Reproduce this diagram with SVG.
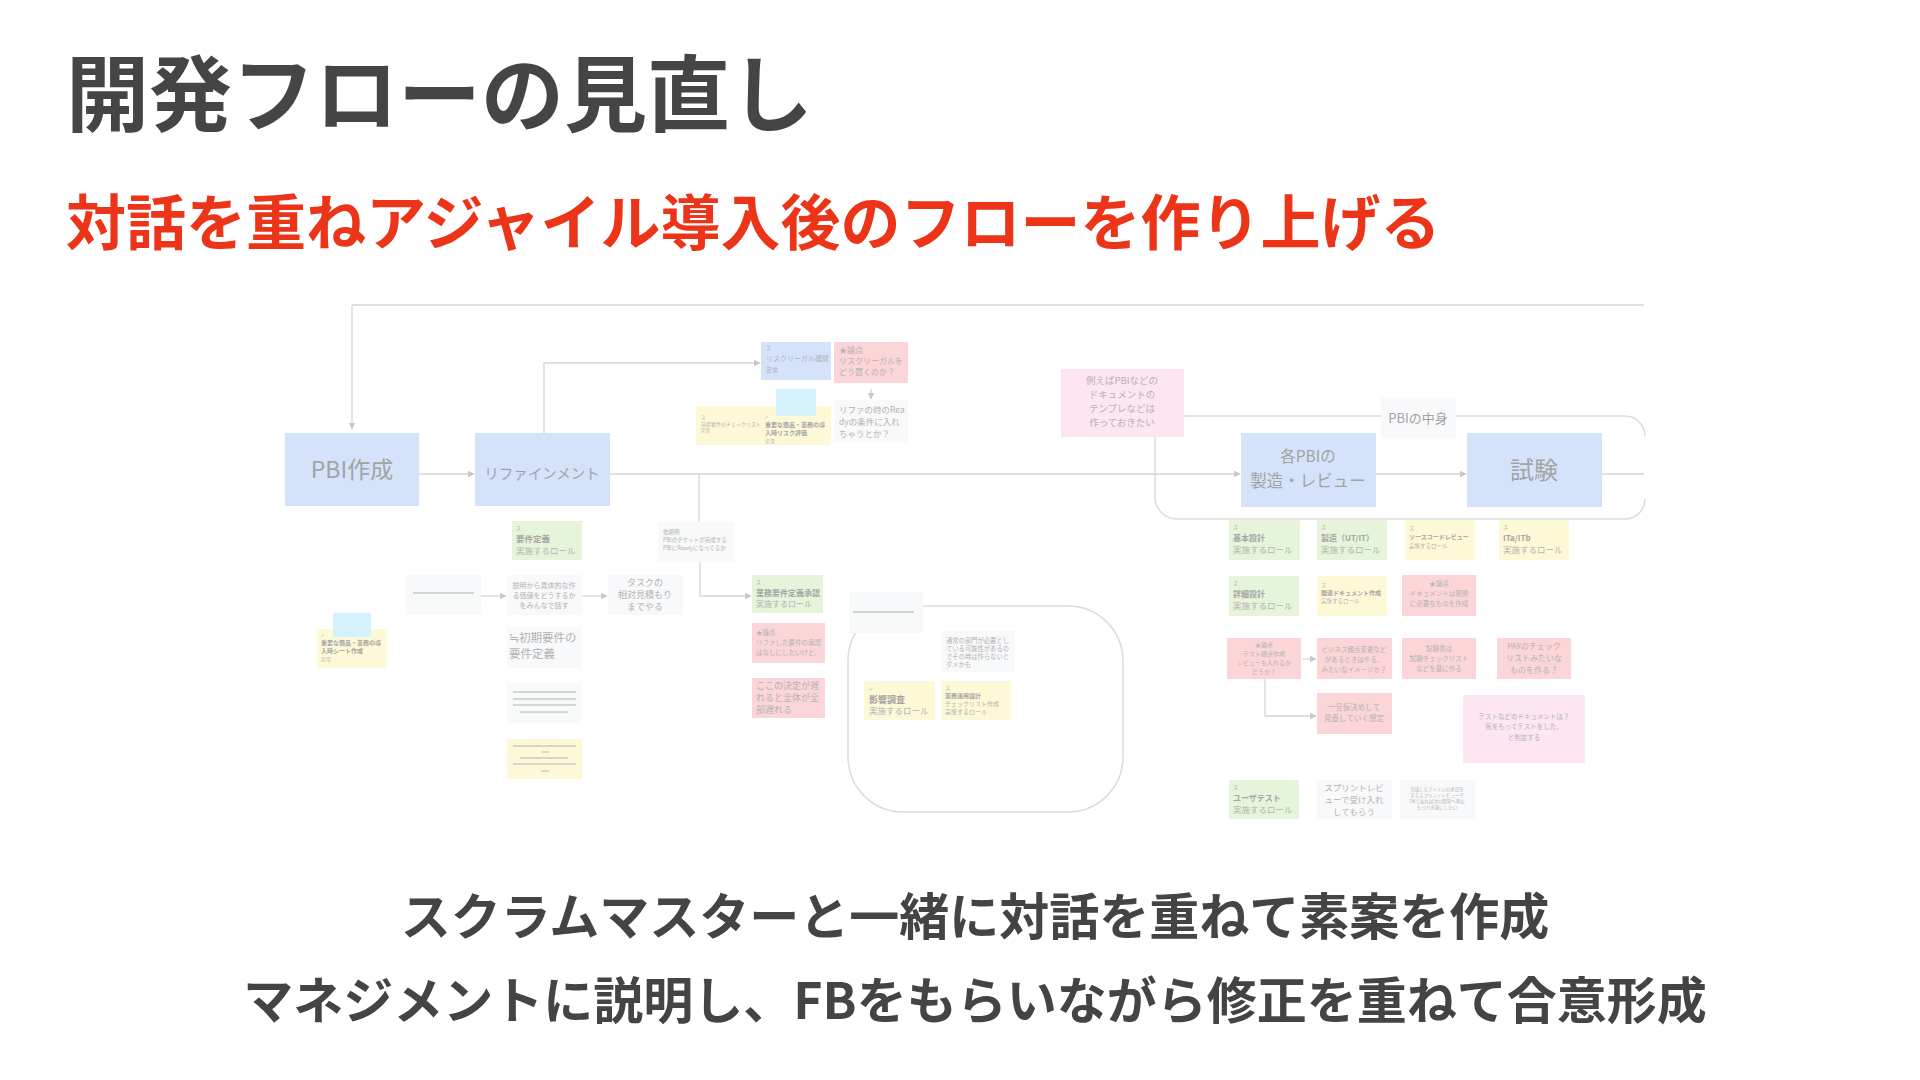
<svg xmlns="http://www.w3.org/2000/svg" width="1920" height="1080" viewBox="0 0 1920 1080">
<defs>
<style>
text{font-family:"Noto Sans CJK JP","Noto Sans",sans-serif;}
.title{font-size:83px;font-weight:700;fill:#454545;}
.sub{font-size:60px;font-weight:700;fill:#ec3418;}
.foot{font-size:50px;font-weight:700;fill:#444444;text-anchor:middle;}
.b{fill:#d4e3fa;}
.g{fill:#e6f4d9;}
.y{fill:#fdf8d6;}
.p{fill:#fbd5d8;}
.lp{fill:#fde5f1;}
.w{fill:#f8f9fa;}
.c{fill:#d5f1fb;}
.big{fill:#a3a3a3;}
.t{fill:#b3b3b3;}
.tb{fill:#a6a6a6;font-weight:700;}
.ln{fill:none;stroke:#d6d6d6;stroke-width:1.3;}
.fr{fill:none;stroke:#dcdcdc;stroke-width:1.5;}
.dl{stroke:#c8c8c8;stroke-width:1.3;}
.mid{text-anchor:middle;}
</style>
<marker id="ah" viewBox="0 0 6 6" refX="5.5" refY="3" markerWidth="5" markerHeight="5" orient="auto">
<path d="M0,0 L6,3 L0,6 z" fill="#c8c8c8"/>
</marker>
</defs>
<rect width="1920" height="1080" fill="#ffffff"/>

<text class="title" x="66" y="125">開発フローの見直し</text>
<text class="sub" x="66" y="245">対話を重ねアジャイル導入後のフローを作り上げる</text>

<g id="frame-pbi-nakami">
<path class="fr" d="M1184,416 H1625 A20,20 0 0 1 1645,436 M1645,499 A20,20 0 0 1 1625,519 H1177 A22,22 0 0 1 1155,497 V437"/>
</g>
<g id="frame-lower">
<rect class="fr" x="848" y="606" width="275" height="206" rx="55"/>
</g>

<g id="connectors">
<path class="ln" d="M352,305 H1644"/>
<path class="ln" d="M352,305 V429" marker-end="url(#ah)"/>
<path class="ln" d="M419,474 H474" marker-end="url(#ah)"/>
<path class="ln" d="M544,433 V363 H760" marker-end="url(#ah)"/>
<path class="ln" d="M610,474 H1240" marker-end="url(#ah)"/>
<path class="ln" d="M699,474 V522"/>
<path class="ln" d="M700,562 V596 H751" marker-end="url(#ah)"/>
<path class="ln" d="M871,389 V399" marker-end="url(#ah)"/>
<path class="ln" d="M481,596 H506" marker-end="url(#ah)"/>
<path class="ln" d="M582,596 H607" marker-end="url(#ah)"/>
<path class="ln" d="M1376,474 H1466" marker-end="url(#ah)"/>
<path class="ln" d="M1602,474 H1644"/>
<path class="ln" d="M1303,659 H1316" marker-end="url(#ah)"/>
<path class="ln" d="M1265,679 V716 H1316" marker-end="url(#ah)"/>
</g>

<g id="pbi-sakusei">
<rect class="b" x="285" y="433" width="134" height="73"/>
<text class="big mid" x="352" y="478" font-size="23">PBI作成</text>
</g>
<g id="refinement">
<rect class="b" x="475" y="433" width="135" height="73"/>
<text class="big mid" x="542" y="479" font-size="14.5">リファインメント</text>
</g>
<g id="risk-legal">
<rect class="b" x="761" y="342" width="70" height="38"/>
<text class="t" x="766" y="350" font-size="5">ス</text>
<text class="t" x="766" y="361" font-size="7">リスクリーガル確認</text>
<text class="t" x="766" y="372" font-size="6">定常</text>
</g>
<g id="ronten-risk">
<rect class="p" x="834" y="342" width="74" height="41"/>
<text class="t" x="839" y="353" font-size="8">★論点</text>
<text class="t" x="839" y="364" font-size="8">リスクリーガルを</text>
<text class="t" x="839" y="375" font-size="8">どう置くのか？</text>
</g>
<g id="refa-ready">
<rect class="w" x="834" y="400" width="74" height="42"/>
<text class="t" x="839" y="413" font-size="8.5">リファの時のRea</text>
<text class="t" x="839" y="425" font-size="8.5">dyの条件に入れ</text>
<text class="t" x="839" y="437" font-size="8.5">ちゃうとか？</text>
</g>
<g id="yellow-checklist">
<rect class="y" x="696" y="406" width="135" height="39"/>
<text class="t" x="701" y="419" font-size="4.5">ス</text>
<text class="t" x="701" y="426" font-size="5">前提要件のチェックリスト</text>
<text class="t" x="701" y="432" font-size="4.5">定常</text>
<text class="t" x="765" y="419" font-size="4.5">✓</text>
<text class="tb" x="765" y="427" font-size="6">重要な商品・業務の導</text>
<text class="tb" x="765" y="435" font-size="6">入時リスク評価</text>
<text class="t" x="765" y="443" font-size="5">定常</text>
</g>
<g id="cyan-1">
<rect class="c" x="776" y="389" width="40" height="27"/>
</g>

<g id="youken-teigi">
<rect class="g" x="512" y="521" width="70" height="39"/>
<text class="t" x="516" y="530" font-size="5">ス</text>
<text class="tb" x="516" y="542" font-size="8.5">要件定義</text>
<text class="t" x="516" y="554" font-size="8.5">実施するロール</text>
</g>
<g id="irai-rei">
<rect class="w" x="658" y="522" width="76" height="40"/>
<text class="t" x="663" y="534" font-size="5.5">依頼例</text>
<text class="t" x="663" y="542" font-size="5.5">PBIのチケットが完成する</text>
<text class="t" x="663" y="550" font-size="5.5">PBIにReadyになってるか</text>
</g>
<g id="blank-1">
<rect class="w" x="406" y="575" width="75" height="40"/>
<line class="dl" x1="413" y1="593" x2="474" y2="593"/>
</g>
<g id="setsumei">
<rect class="w" x="507" y="575" width="75" height="40"/>
<text class="t mid" x="544" y="588" font-size="7">説明から具体的な作</text>
<text class="t mid" x="544" y="598" font-size="7">る価値をどうするか</text>
<text class="t mid" x="544" y="608" font-size="7">をみんなで話す</text>
</g>
<g id="task">
<rect class="w" x="608" y="575" width="75" height="40"/>
<text class="t mid" x="645" y="586" font-size="9">タスクの</text>
<text class="t mid" x="645" y="598" font-size="9">相対見積もり</text>
<text class="t mid" x="645" y="610" font-size="9">までやる</text>
</g>
<g id="gyomu-youken">
<rect class="g" x="752" y="575" width="71" height="38"/>
<text class="t" x="756" y="584" font-size="5">ス</text>
<text class="tb" x="756" y="596" font-size="8">業務要件定義承認</text>
<text class="t" x="756" y="607" font-size="8">実施するロール</text>
</g>
<g id="ronten-refa">
<rect class="p" x="752" y="623" width="73" height="40"/>
<text class="t" x="756" y="635" font-size="6.5">★論点</text>
<text class="t" x="756" y="645" font-size="6.5">リファした要件の承認</text>
<text class="t" x="756" y="655" font-size="6.5">はなしにしたいけど、</text>
</g>
<g id="koko-kettei">
<rect class="p" x="752" y="678" width="73" height="40"/>
<text class="t" x="756" y="689" font-size="9">ここの決定が遅</text>
<text class="t" x="756" y="701" font-size="9">れると全体が全</text>
<text class="t" x="756" y="713" font-size="9">部遅れる</text>
</g>
<g id="shoki-youken">
<rect class="w" x="507" y="627" width="75" height="41"/>
<text class="t" x="509" y="642" font-size="11.5">≒初期要件の</text>
<text class="t" x="509" y="658" font-size="11.5">要件定義</text>
</g>
<g id="lines-box">
<rect class="w" x="507" y="683" width="75" height="40"/>
<line class="dl" x1="513" y1="692" x2="576" y2="692"/>
<line class="dl" x1="513" y1="699" x2="576" y2="699"/>
<line class="dl" x1="513" y1="705" x2="576" y2="705"/>
<line class="dl" x1="520" y1="712" x2="568" y2="712"/>
</g>
<g id="lines-yellow">
<rect class="y" x="507" y="739" width="75" height="40"/>
<line class="dl" x1="513" y1="746" x2="576" y2="746"/>
<line class="dl" x1="541" y1="752" x2="549" y2="752"/>
<line class="dl" x1="520" y1="758" x2="568" y2="758"/>
<line class="dl" x1="513" y1="764" x2="576" y2="764"/>
<line class="dl" x1="541" y1="771" x2="549" y2="771"/>
</g>
<g id="left-yellow">
<rect class="y" x="317" y="629" width="70" height="39"/>
<text class="t" x="321" y="637" font-size="4.5">✓</text>
<text class="tb" x="321" y="645" font-size="6">重要な商品・業務の導</text>
<text class="tb" x="321" y="653" font-size="6">入時シート作成</text>
<text class="t" x="321" y="661" font-size="5">定常</text>
</g>
<g id="cyan-2">
<rect class="c" x="333" y="613" width="38" height="24"/>
</g>

<g id="blank-2">
<rect class="w" x="849" y="592" width="74" height="41"/>
<line class="dl" x1="853" y1="612" x2="914" y2="612"/>
</g>
<g id="tsujo-bumon">
<rect class="w" x="942" y="631" width="73" height="41"/>
<text class="t" x="946" y="643" font-size="6.3">通常の部門が必要とし</text>
<text class="t" x="946" y="651" font-size="6.3">ている可能性があるの</text>
<text class="t" x="946" y="659" font-size="6.3">でその時は作らないと</text>
<text class="t" x="946" y="667" font-size="6.3">ダメかも</text>
</g>
<g id="eikyo-chosa">
<rect class="y" x="864" y="681" width="71" height="39"/>
<text class="t" x="869" y="691" font-size="5">✓</text>
<text class="tb" x="869" y="703" font-size="9">影響調査</text>
<text class="t" x="869" y="714" font-size="8.5">実施するロール</text>
</g>
<g id="gyomu-unyo">
<rect class="y" x="941" y="681" width="70" height="39"/>
<text class="t" x="945" y="690" font-size="5">ス</text>
<text class="tb" x="945" y="698" font-size="6">業務運用設計</text>
<text class="t" x="945" y="706" font-size="6">チェックリスト作成</text>
<text class="t" x="945" y="714" font-size="6">実施するロール</text>
</g>

<g id="template-note">
<rect class="lp" x="1061" y="369" width="123" height="68"/>
<text class="t mid" x="1122" y="384" font-size="9.5">例えばPBIなどの</text>
<text class="t mid" x="1122" y="398" font-size="9.5">ドキュメントの</text>
<text class="t mid" x="1122" y="412" font-size="9.5">テンプレなどは</text>
<text class="t mid" x="1122" y="426" font-size="9.5">作っておきたい</text>
</g>
<g id="pbi-nakami-label">
<rect class="w" x="1381" y="398" width="75" height="40"/>
<text class="big mid" x="1418" y="423" font-size="13">PBIの中身</text>
</g>
<g id="kaku-pbi">
<rect class="b" x="1241" y="433" width="135" height="74"/>
<text class="big mid" x="1308" y="462" font-size="15.5">各PBIの</text>
<text class="big mid" x="1308" y="487" font-size="16.5">製造・レビュー</text>
</g>
<g id="shiken">
<rect class="b" x="1467" y="433" width="135" height="74"/>
<text class="big mid" x="1534" y="479" font-size="24">試験</text>
</g>

<g id="kihon-sekkei">
<rect class="g" x="1229" y="520" width="71" height="40"/>
<text class="t" x="1233" y="529" font-size="5">ス</text>
<text class="tb" x="1233" y="541" font-size="8">基本設計</text>
<text class="t" x="1233" y="553" font-size="8.5">実施するロール</text>
</g>
<g id="seizo">
<rect class="g" x="1317" y="520" width="70" height="40"/>
<text class="t" x="1321" y="529" font-size="5">ス</text>
<text class="tb" x="1321" y="541" font-size="8">製造（UT/IT）</text>
<text class="t" x="1321" y="553" font-size="8.5">実施するロール</text>
</g>
<g id="source-review">
<rect class="y" x="1405" y="520" width="70" height="40"/>
<text class="t" x="1409" y="530" font-size="5">ス</text>
<text class="tb" x="1409" y="539" font-size="6">ソースコードレビュー</text>
<text class="t" x="1409" y="548" font-size="5.5">実施するロール</text>
</g>
<g id="ita-itb">
<rect class="y" x="1499" y="520" width="70" height="40"/>
<text class="t" x="1503" y="529" font-size="5">ス</text>
<text class="tb" x="1503" y="541" font-size="8">ITa/ITb</text>
<text class="t" x="1503" y="553" font-size="8.5">実施するロール</text>
</g>
<g id="shosai-sekkei">
<rect class="g" x="1229" y="576" width="70" height="40"/>
<text class="t" x="1233" y="585" font-size="5">ス</text>
<text class="tb" x="1233" y="597" font-size="8">詳細設計</text>
<text class="t" x="1233" y="609" font-size="8.5">実施するロール</text>
</g>
<g id="kanren-doc">
<rect class="y" x="1317" y="576" width="70" height="40"/>
<text class="t" x="1321" y="587" font-size="5">ス</text>
<text class="tb" x="1321" y="595" font-size="6">関連ドキュメント作成</text>
<text class="t" x="1321" y="603" font-size="5.5">実施するロール</text>
</g>
<g id="ronten-doc">
<rect class="p" x="1402" y="575" width="74" height="41"/>
<text class="t mid" x="1439" y="586" font-size="6.5">★論点</text>
<text class="t mid" x="1439" y="596" font-size="6.5">ドキュメントは開発</text>
<text class="t mid" x="1439" y="606" font-size="6.5">に必要なものを作成</text>
</g>
<g id="ronten-test">
<rect class="p" x="1227" y="638" width="74" height="41"/>
<text class="t mid" x="1264" y="647" font-size="6">★論点</text>
<text class="t mid" x="1264" y="656" font-size="6">テスト観点作成</text>
<text class="t mid" x="1264" y="665" font-size="6">レビューも入れるか</text>
<text class="t mid" x="1264" y="674" font-size="6">どうか？</text>
</g>
<g id="business">
<rect class="p" x="1317" y="638" width="75" height="41"/>
<text class="t mid" x="1354" y="652" font-size="6.5">ビジネス観点変更など</text>
<text class="t mid" x="1354" y="662" font-size="6.5">があるときはやる、</text>
<text class="t mid" x="1354" y="672" font-size="6.5">みたいなイメージか？</text>
</g>
<g id="shikensho">
<rect class="p" x="1402" y="638" width="74" height="41"/>
<text class="t mid" x="1439" y="651" font-size="6.5">試験書は</text>
<text class="t mid" x="1439" y="661" font-size="6.5">試験チェックリスト</text>
<text class="t mid" x="1439" y="671" font-size="6.5">などを基に作る</text>
</g>
<g id="pay-check">
<rect class="p" x="1497" y="638" width="74" height="41"/>
<text class="t mid" x="1534" y="649" font-size="8">PAYのチェック</text>
<text class="t mid" x="1534" y="661" font-size="8">リストみたいな</text>
<text class="t mid" x="1534" y="673" font-size="8">ものを作る？</text>
</g>
<g id="ittan">
<rect class="p" x="1317" y="693" width="75" height="41"/>
<text class="t mid" x="1354" y="710" font-size="7.5">一旦仮決めして</text>
<text class="t mid" x="1354" y="721" font-size="7.5">見直していく想定</text>
</g>
<g id="test-doc">
<rect class="lp" x="1463" y="695" width="122" height="68"/>
<text class="t mid" x="1524" y="719" font-size="6.5">テストなどのドキュメントは？</text>
<text class="t mid" x="1524" y="729" font-size="6.5">気をもってテストをした、</text>
<text class="t mid" x="1524" y="740" font-size="6.5">と判定する</text>
</g>
<g id="user-test">
<rect class="g" x="1229" y="780" width="70" height="39"/>
<text class="t" x="1233" y="789" font-size="5">ス</text>
<text class="tb" x="1233" y="801" font-size="8">ユーザテスト</text>
<text class="t" x="1233" y="813" font-size="8.5">実施するロール</text>
</g>
<g id="sprint-review">
<rect class="w" x="1317" y="780" width="75" height="39"/>
<text class="t mid" x="1354" y="791" font-size="8.5">スプリントレビ</text>
<text class="t mid" x="1354" y="803" font-size="8.5">ューで受け入れ</text>
<text class="t mid" x="1354" y="815" font-size="8.5">してもらう</text>
</g>
<g id="tiny-note">
<rect class="w" x="1400" y="780" width="75" height="39"/>
<text class="t mid" x="1437" y="791" font-size="4.5">完成したアイテムの承認を</text>
<text class="t mid" x="1437" y="797" font-size="4.5">するスプリントレビューで</text>
<text class="t mid" x="1437" y="803" font-size="4.5">OKであれば次の開発へ進む</text>
<text class="t mid" x="1437" y="809" font-size="4.5">もっと迅速にしたい</text>
</g>

<text class="foot" x="975" y="935">スクラムマスターと一緒に対話を重ねて素案を作成</text>
<text class="foot" x="975" y="1019">マネジメントに説明し、FBをもらいながら修正を重ねて合意形成</text>
</svg>
